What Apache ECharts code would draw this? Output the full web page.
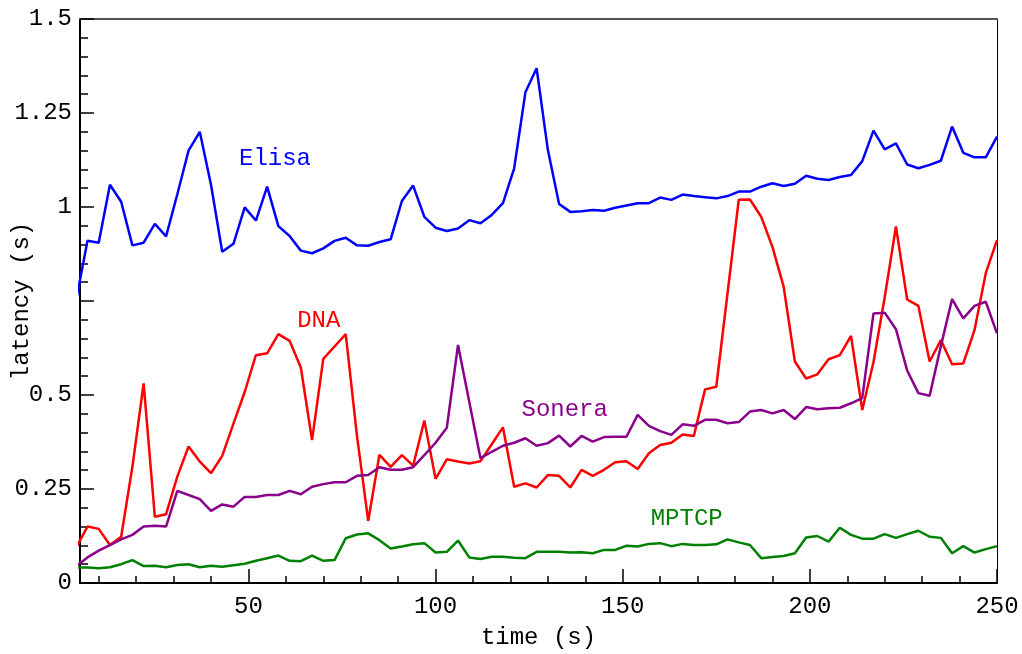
<!DOCTYPE html>
<html><head><meta charset="utf-8">
<script src="https://cdn.jsdelivr.net/npm/echarts@6/dist/echarts.min.js"></script>
<style>html,body{margin:0;padding:0;background:#fff}#c{width:1022px;height:654px}</style>
</head><body><div id="c"></div>
<script>
const time = [4,7,10,13,16,19,22,25,28,31,34,37,40,43,46,49,52,55,58,61,64,67,70,73,76,79,82,85,88,91,94,97,100,103,106,109,112,115,118,121,124,127,130,133,136,139,142,145,148,151,154,157,160,163,166,169,172,175,178,181,184,187,190,193,196,199,202,205,208,211,214,217,220,223,226,229,232,235,238,241,244,247,250];
const elisa = [0.754,0.910,0.905,1.059,1.014,0.898,0.905,0.955,0.922,1.034,1.150,1.200,1.059,0.881,0.902,0.999,0.964,1.054,0.949,0.923,0.884,0.877,0.890,0.910,0.918,0.898,0.897,0.907,0.914,1.016,1.057,0.974,0.945,0.936,0.943,0.965,0.957,0.979,1.010,1.103,1.305,1.369,1.152,1.008,0.987,0.989,0.992,0.990,0.998,1.004,1.010,1.010,1.025,1.019,1.033,1.029,1.026,1.023,1.029,1.041,1.041,1.054,1.063,1.056,1.062,1.083,1.075,1.072,1.080,1.085,1.122,1.203,1.153,1.169,1.113,1.103,1.112,1.123,1.214,1.144,1.132,1.132,1.187];
const dna = [0.095,0.150,0.144,0.101,0.123,0.309,0.531,0.176,0.183,0.283,0.363,0.323,0.292,0.338,0.424,0.508,0.606,0.611,0.662,0.644,0.573,0.380,0.596,0.629,0.662,0.392,0.165,0.341,0.309,0.340,0.312,0.432,0.277,0.329,0.323,0.318,0.324,0.369,0.414,0.256,0.265,0.254,0.287,0.285,0.254,0.301,0.285,0.301,0.321,0.324,0.303,0.345,0.367,0.373,0.395,0.391,0.515,0.522,0.770,1.019,1.020,0.974,0.894,0.788,0.589,0.544,0.555,0.595,0.606,0.657,0.460,0.588,0.760,0.948,0.754,0.737,0.589,0.646,0.582,0.584,0.673,0.824,0.912];
const sonera = [0.045,0.068,0.086,0.101,0.116,0.128,0.150,0.152,0.150,0.245,0.234,0.223,0.192,0.209,0.203,0.229,0.229,0.234,0.234,0.245,0.236,0.256,0.263,0.268,0.268,0.285,0.287,0.308,0.301,0.301,0.308,0.340,0.373,0.413,0.633,0.482,0.332,0.349,0.365,0.373,0.385,0.365,0.372,0.392,0.363,0.391,0.376,0.388,0.389,0.389,0.447,0.418,0.404,0.394,0.422,0.418,0.434,0.434,0.425,0.428,0.456,0.460,0.451,0.460,0.436,0.468,0.462,0.465,0.466,0.478,0.492,0.717,0.719,0.675,0.565,0.505,0.498,0.630,0.755,0.704,0.737,0.748,0.664];
const mptcp = [0.041,0.041,0.039,0.042,0.050,0.061,0.045,0.046,0.042,0.048,0.050,0.042,0.046,0.043,0.047,0.051,0.059,0.066,0.073,0.059,0.058,0.073,0.059,0.061,0.119,0.129,0.132,0.114,0.092,0.097,0.103,0.106,0.081,0.083,0.113,0.068,0.064,0.070,0.070,0.067,0.066,0.083,0.083,0.083,0.081,0.082,0.079,0.088,0.088,0.099,0.097,0.104,0.106,0.098,0.104,0.101,0.101,0.103,0.116,0.108,0.101,0.066,0.069,0.072,0.079,0.121,0.125,0.110,0.147,0.128,0.118,0.118,0.130,0.120,0.130,0.139,0.123,0.120,0.079,0.098,0.081,0.090,0.098];
const xMajorTicks = [50,100,150,200,250];
const xMinorTicks = [10,20,30,40,60,70,80,90,110,120,130,140,160,170,180,190,210,220,230,240];
const seriesNames = ['Elisa','DNA','Sonera','MPTCP'];
const seriesColors = ['#0000ff','#ff0000','#8b008b','#008000'];
const labelAnchors = [[57.1,1.128],[68.8,0.697],[134.5,0.462],[167.1,0.170]];
const seriesValues = [elisa, dna, sonera, mptcp];

const FONT = 'Liberation Mono';
const chart = echarts.init(document.getElementById('c'), null, {renderer:'canvas'});
const option = {
  animation: false,
  backgroundColor: '#fff',
  grid: {left: 80, right: 25, top: 19, bottom: 71, containLabel: false, outerBoundsMode: 'none'},
  xAxis: [
    {type:'value', min:5, max:250, position:'bottom',
     name:'time (s)', nameLocation:'middle', nameGap:43, nameMoveOverlap:false,
     nameTextStyle:{fontFamily:FONT, fontSize:24, color:'#000'},
     axisLine:{show:true, onZero:false, lineStyle:{color:'#000', width:2}},
     axisTick:{show:true, inside:true, length:14, customValues:xMajorTicks, lineStyle:{color:'#000', width:1.5}},
     axisLabel:{show:true, customValues:xMajorTicks, margin:12, fontFamily:FONT, fontSize:24, color:'#000'},
     splitLine:{show:false}},
    {type:'value', min:5, max:250, position:'bottom',
     axisLine:{show:false},
     axisTick:{show:true, inside:true, length:7, customValues:xMinorTicks, lineStyle:{color:'#000', width:1.5}},
     axisLabel:{show:false}, splitLine:{show:false}},
    {type:'value', min:5, max:250, position:'top',
     axisLine:{show:true, onZero:false, lineStyle:{color:'#555', width:2}},
     axisTick:{show:false}, axisLabel:{show:false}, splitLine:{show:false}}
  ],
  yAxis: [
    {type:'value', min:0, max:1.5, interval:0.25, position:'left',
     name:'latency (s)', nameLocation:'middle', nameGap:46, nameRotate:90, nameMoveOverlap:false,
     nameTextStyle:{fontFamily:FONT, fontSize:24, color:'#000'},
     axisLine:{show:true, onZero:false, lineStyle:{color:'#000', width:2}},
     axisTick:{show:true, inside:true, length:14, lineStyle:{color:'#000', width:1.5}},
     minorTick:{show:true, splitNumber:5, length:8, lineStyle:{color:'#000', width:1.5}},
     axisLabel:{show:true, margin:8, fontFamily:FONT, fontSize:24, color:'#000',
       formatter: v => Math.abs(v-0.75) < 1e-6 ? '' : String(+v.toFixed(2))},
     splitLine:{show:false}, minorSplitLine:{show:false}},
    {type:'value', min:0, max:1.5, position:'right',
     axisLine:{show:true, onZero:false, lineStyle:{color:'#000', width:1}},
     axisTick:{show:false}, axisLabel:{show:false}, splitLine:{show:false}}
  ],
  series: seriesNames.map((name, s) => ({
    name, type:'line', xAxisIndex:0, yAxisIndex:0,
    data: time.map((t, i) => [t, seriesValues[s][i]]),
    showSymbol:false, symbol:'none', clip:true,
    lineStyle:{color:seriesColors[s], width:2.5},
    itemStyle:{color:seriesColors[s]},
    markPoint:{
      symbol:'circle', symbolSize:1, itemStyle:{color:'rgba(0,0,0,0)'},
      label:{show:true, position:'inside', formatter:name, fontFamily:FONT, fontSize:24, color:seriesColors[s]},
      data:[{coord:labelAnchors[s]}]
    }
  }))
};
chart.setOption(option);
</script>
</body></html>
